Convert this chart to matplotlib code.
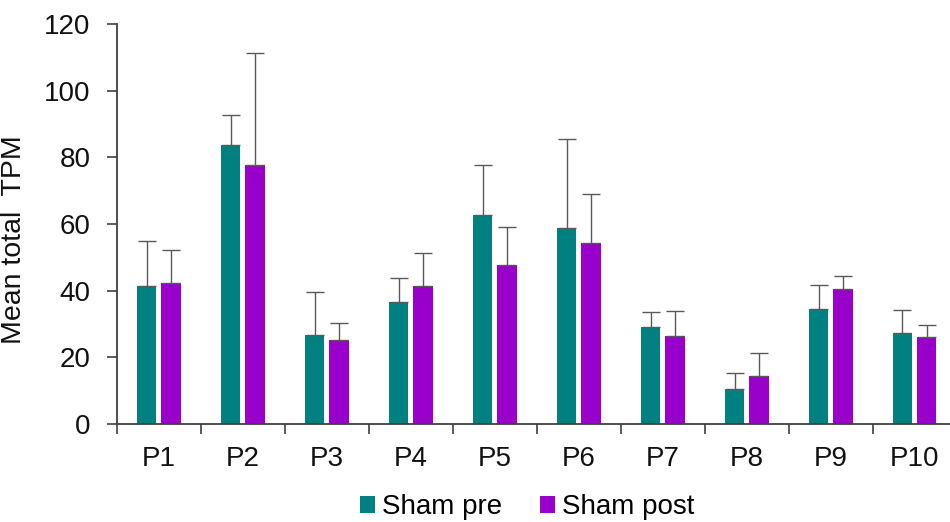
import numpy as np
import matplotlib
matplotlib.use('Agg')
import matplotlib.pyplot as plt
from matplotlib.patches import Patch

# Dati: media e limite superiore della barra d'errore
categories = ['P1', 'P2', 'P3', 'P4', 'P5', 'P6', 'P7', 'P8', 'P9', 'P10']
sham_pre = [41.4, 83.7, 26.7, 36.5, 62.7, 58.9, 29.1, 10.6, 34.4, 27.4]
sham_pre_top = [55.0, 92.7, 39.5, 43.8, 77.7, 85.4, 33.5, 15.4, 41.6, 34.2]
sham_post = [42.4, 77.8, 25.3, 41.4, 47.6, 54.3, 26.3, 14.4, 40.6, 26.0]
sham_post_top = [52.2, 111.3, 30.4, 51.4, 59.1, 68.9, 33.9, 21.3, 44.4, 29.7]

series_labels = ['Sham pre', 'Sham post']
colors = ['#008080', '#9900CC']

plt.rcParams['font.family'] = ['Liberation Sans', 'DejaVu Sans']
fs = 20

fig = plt.figure(figsize=(9.5, 5.22), dpi=100)
ax = fig.add_axes([0.123, 0.188, 0.884, 0.766])

x = np.arange(len(categories))
width = 0.23
offset = 0.145
axis_col = '#404040'

err_pre = np.array(sham_pre_top) - np.array(sham_pre)
err_post = np.array(sham_post_top) - np.array(sham_post)

ekw = dict(ecolor='#595959', elinewidth=1.0, capsize=6.5, capthick=1.0)
ax.bar(x - offset, sham_pre, width, color=colors[0],
       yerr=[np.zeros_like(err_pre), err_pre], error_kw=ekw)
ax.bar(x + offset, sham_post, width, color=colors[1],
       yerr=[np.zeros_like(err_post), err_post], error_kw=ekw)

ax.set_xlim(-0.5, len(categories) - 0.5)
ax.set_ylim(0, 120)
ax.set_yticks(np.arange(0, 121, 20))

# tick maggiori ai confini delle categorie, etichette al centro
ax.set_xticks(np.arange(-0.5, len(categories), 1.0))
ax.set_xticklabels([])
ax.set_xticks(x, minor=True)
ax.set_xticklabels(categories, minor=True)
ax.tick_params(axis='x', which='major', length=7, width=1.2, color=axis_col, direction='out')
ax.tick_params(axis='x', which='minor', length=0, pad=16, labelsize=fs, labelcolor='#111111')
ax.tick_params(axis='y', length=7, width=1.2, color=axis_col, pad=12,
               labelsize=fs, labelcolor='#111111')

for side in ['top', 'right']:
    ax.spines[side].set_visible(False)
for side in ['left', 'bottom']:
    ax.spines[side].set_color(axis_col)
    ax.spines[side].set_linewidth(1.3)

ax.set_ylabel('Mean total  TPM', fontsize=fs + 0.5, color='#111111')
ax.yaxis.set_label_coords(-0.107, 0.46)

handles = [Patch(facecolor=c, label=l) for c, l in zip(colors, series_labels)]
fig.legend(handles=handles, loc='center', bbox_to_anchor=(527 / 950, 1 - 507 / 522),
           ncol=2, frameon=False, fontsize=fs, handlelength=0.55, handleheight=0.55,
           handletextpad=0.25, columnspacing=1.35)

fig.savefig('out.png', dpi=100)
